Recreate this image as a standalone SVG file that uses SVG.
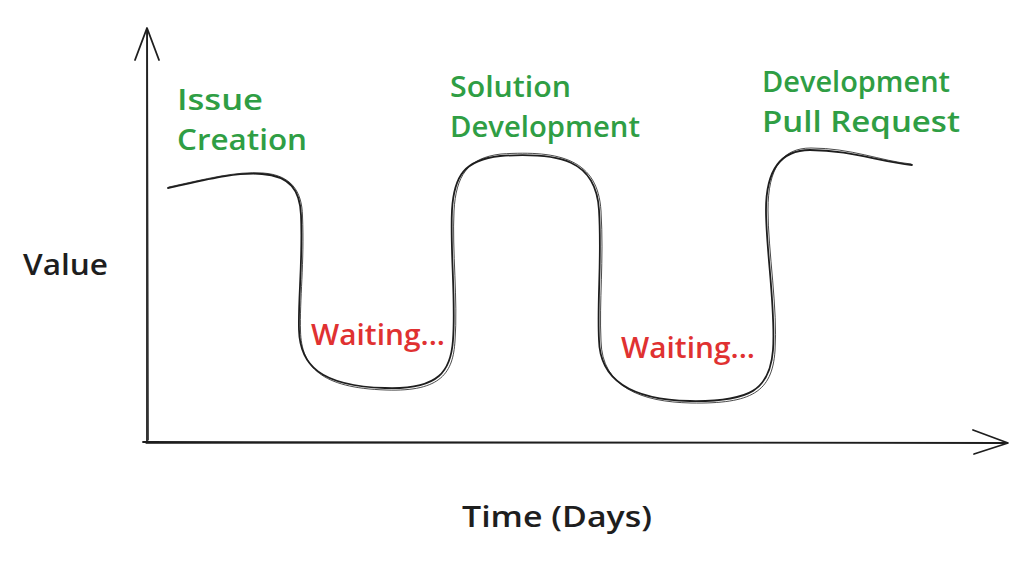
<svg xmlns="http://www.w3.org/2000/svg" width="1033" height="564" viewBox="0 0 1033 564">
  <style>
    .ink { fill: none; stroke: #1e1e1e; stroke-linecap: round; stroke-linejoin: round; }
    .main { stroke-width: 1.8; }
    .echo { stroke-width: 1; opacity: 0.8; }
    .lbl { font-family: "Open Sans", "Liberation Sans", sans-serif; font-size: 28px; font-weight: 600; }
    .stage { fill: #2f9e44; }
    .wait { fill: #e03131; }
    .axis-lbl { fill: #1e1e1e; }
  </style>
  <rect width="1033" height="564" fill="#ffffff"/>

  <g id="connectors">
    <!-- value axis (vertical) with open arrowhead -->
    <g id="axis-y">
      <path class="ink main" d="M147,442 L147,29"/>
      <path class="ink echo" d="M148.5,440 L147.5,32"/>
      <path class="ink main" d="M135,60 L147,28 L159,60"/>
    </g>
    <!-- time axis (horizontal) with open arrowhead -->
    <g id="axis-x">
      <path class="ink main" d="M143,442 L1007,443"/>
      <path class="ink echo" d="M146,443.5 L1004,442.5"/>
      <path class="ink main" d="M973,430 L1008,443 L974,454"/>
    </g>
    <!-- value curve over time -->
    <g id="value-curve">
      <path class="ink main" d="M168,188 C205,180 235,172 262,174 C290,176 300,190 301,215 C303,260 298,300 299,330 C300,365 320,386 385,388 C440,390 451,370 453,340 C456,300 450,250 452,210 C454,175 465,160 500,156 C560,152 596,160 599,210 C602,260 597,300 599,340 C600,385 640,400 690,401 C750,402 770,390 773,350 C776,310 766,250 766,210 C766,170 780,150 810,150 C850,150 880,162 912,165"/>
      <path class="ink echo" d="M169,187 C206,179 236,171 263,173 C291,175 302,191 302.5,216 C304.5,262 299.5,301 300.5,331 C301.5,367 321,388 386,390 C442,392 453,372 455,341 C458,300 452,250 454,211 C456,176 467,158 501,154 C561,150 598,160 601,211 C604,261 599,301 601,341 C602,387 641,402 691,403 C752,404 772,392 775,351 C778,310 768,250 768,210 C768,168 782,148 811,148 C851,148 881,161 911,164"/>
    </g>
  </g>

  <g id="issue-creation">
    <text class="lbl stage" x="177" y="110" textLength="86" lengthAdjust="spacingAndGlyphs">Issue</text>
    <text class="lbl stage" x="177" y="150" textLength="130" lengthAdjust="spacingAndGlyphs">Creation</text>
  </g>

  <g id="solution-development">
    <text class="lbl stage" x="450" y="97" textLength="121" lengthAdjust="spacingAndGlyphs">Solution</text>
    <text class="lbl stage" x="450" y="137" textLength="190" lengthAdjust="spacingAndGlyphs">Development</text>
  </g>

  <g id="development-pull-request">
    <text class="lbl stage" x="762" y="92" textLength="188" lengthAdjust="spacingAndGlyphs">Development</text>
    <text class="lbl stage" x="762" y="132" textLength="198" lengthAdjust="spacingAndGlyphs">Pull Request</text>
  </g>

  <g id="waiting-1">
    <text class="lbl wait" x="311" y="345" textLength="134" lengthAdjust="spacingAndGlyphs">Waiting...</text>
  </g>

  <g id="waiting-2">
    <text class="lbl wait" x="621" y="358" textLength="134" lengthAdjust="spacingAndGlyphs">Waiting...</text>
  </g>

  <g id="value-label">
    <text class="lbl axis-lbl" x="23" y="275" textLength="85" lengthAdjust="spacingAndGlyphs">Value</text>
  </g>

  <g id="time-label">
    <text class="lbl axis-lbl" x="462" y="527" textLength="190" lengthAdjust="spacingAndGlyphs">Time (Days)</text>
  </g>
</svg>
